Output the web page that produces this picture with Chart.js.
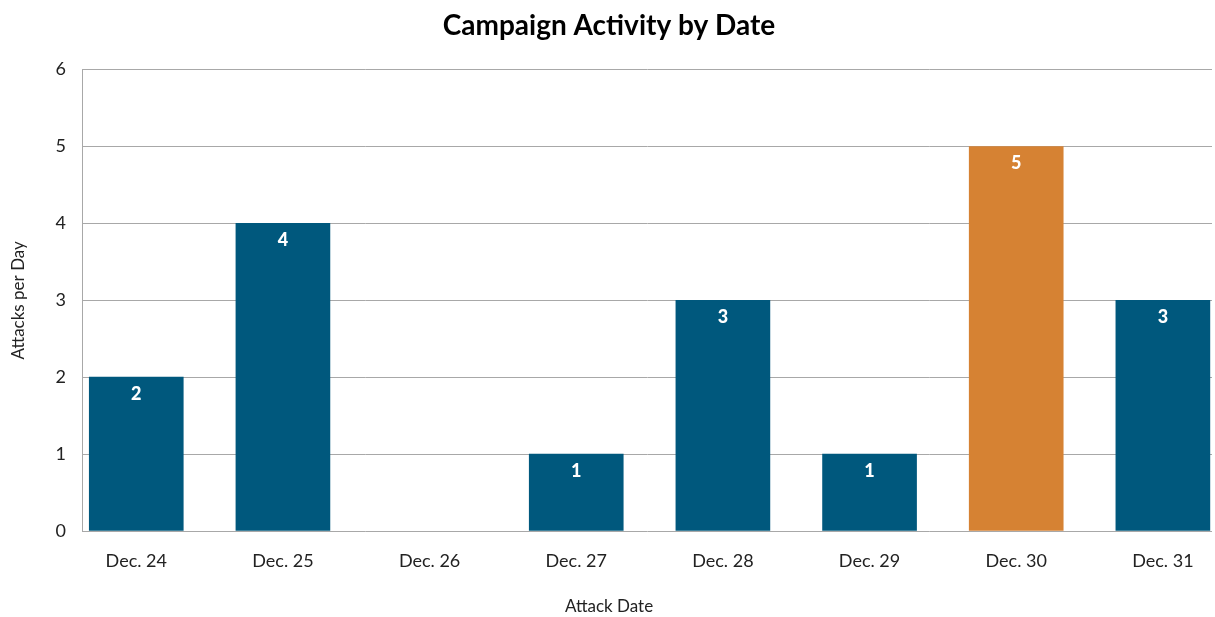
<!DOCTYPE html>
<html>
<head>
<meta charset="utf-8">
<title>Campaign Activity by Date</title>
<script src="https://cdn.jsdelivr.net/npm/chart.js@4/dist/chart.umd.min.js"></script>
<style>
  html, body { margin: 0; padding: 0; background: #ffffff; }
  #wrap { width: 1215px; height: 617px; position: relative; }
</style>
</head>
<body>
<div id="wrap"><canvas id="activityChart"></canvas></div>
<script>
// Attacks recorded per day over the last week of December
const dates = ['Dec. 24', 'Dec. 25', 'Dec. 26', 'Dec. 27', 'Dec. 28', 'Dec. 29', 'Dec. 30', 'Dec. 31'];
const attacks = [2, 4, 0, 1, 3, 1, 5, 3];
const yTicks = [0, 1, 2, 3, 4, 5, 6];
const peakDate = 'Dec. 30';

const FONT = 'Lato, "Open Sans", sans-serif';
const BLUE = '#00587d';
const ORANGE = '#d68233';
const GRID = '#a8a8a8';

// white value labels just inside the top of each bar
const barLabels = {
    id: 'barLabels',
    afterDatasetsDraw(chart) {
        const ctx = chart.ctx;
        const meta = chart.getDatasetMeta(0);
        ctx.save();
        ctx.fillStyle = '#ffffff';
        ctx.font = '900 18px ' + FONT;
        ctx.textAlign = 'center';
        ctx.textBaseline = 'middle';
        meta.data.forEach((bar, i) => {
            if (!attacks[i]) return;
            ctx.fillText(String(attacks[i]), bar.x, bar.y + 17);
        });
        ctx.restore();
    }
};

const ctx = document.getElementById('activityChart').getContext('2d');
const chart = new Chart(ctx, {
    type: 'bar',
    data: {
        datasets: [{
            data: dates.map((d, i) => ({ x: i, y: attacks[i] })),
            // empty days get no visible sliver at the baseline
            backgroundColor: dates.map((d, i) => !attacks[i] ? 'rgba(0,0,0,0)' : d === peakDate ? ORANGE : BLUE),
            borderWidth: 0,
            barThickness: 94
        }]
    },
    options: {
        responsive: true,
        maintainAspectRatio: false,
        animation: false,
        layout: { padding: { left: 6, right: 3, top: 0, bottom: 0 } },
        scales: {
            x: {
                type: 'linear',
                offset: false,
                min: -0.37,
                max: 7.335,
                grid: { display: false },
                border: { display: false },
                afterBuildTicks: scale => { scale.ticks = dates.map((d, i) => ({ value: i })); },
                afterFit: scale => { scale.height = 48; },
                ticks: {
                    autoSkip: false,
                    maxRotation: 0,
                    padding: 11,
                    color: '#222222',
                    font: { family: FONT, size: 18 },
                    callback: v => dates[v]
                }
            },
            y: {
                min: 0,
                max: 6,
                afterBuildTicks: scale => { scale.ticks = yTicks.map(v => ({ value: v })); },
                afterFit: scale => { scale.width = 76; },
                grid: { color: GRID, lineWidth: 1, drawTicks: false },
                border: { display: true, color: GRID, width: 1 },
                ticks: {
                    padding: 16,
                    color: '#222222',
                    font: { family: FONT, size: 18 }
                },
                title: {
                    display: true,
                    text: 'Attacks per Day',
                    color: '#222222',
                    font: { family: FONT, size: 17 },
                    padding: { top: 2, bottom: 0 }
                }
            }
        },
        plugins: {
            legend: { display: false },
            tooltip: { enabled: false },
            title: {
                display: true,
                text: 'Campaign Activity by Date',
                color: '#000000',
                font: { family: FONT, size: 28, weight: 'bold' },
                padding: { top: 9, bottom: 27 }
            },
            subtitle: {
                display: true,
                position: 'bottom',
                text: 'Attack Date',
                color: '#222222',
                font: { family: FONT, size: 17, weight: 'normal' },
                padding: { top: 17.6, bottom: 0 }
            }
        }
    },
    plugins: [barLabels]
});
</script>
</body>
</html>
